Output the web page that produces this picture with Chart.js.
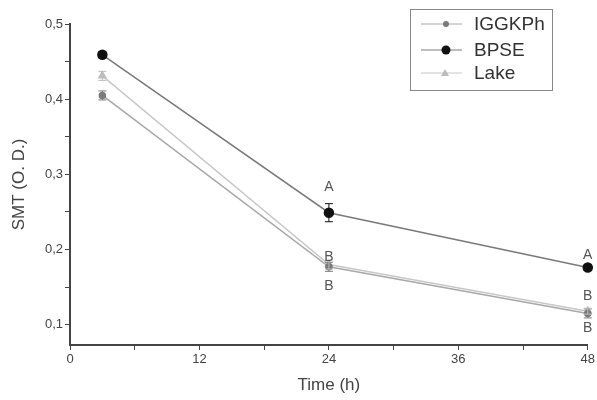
<!DOCTYPE html>
<html>
<head>
<meta charset="utf-8">
<script src="https://cdn.jsdelivr.net/npm/chart.js@4"></script>
<style>
  html, body { margin: 0; padding: 0; background: #fff; }
  #wrap { width: 597px; height: 400px; position: relative; }
</style>
</head>
<body>
<div id="wrap"><canvas id="chart"></canvas></div>
<script>
const hours = [3, 24, 48];
const iggkph = [0.405, 0.177, 0.115];
const bpse = [0.459, 0.249, 0.176];
const lake = [0.431, 0.180, 0.118];
const iggkphErr = [0.006, 0.006, 0.006];
const bpseErr = [0.004, 0.012, 0.004];
const lakeErr = [0.006, 0.006, 0.004];

// significance letters: [hour, value, text]
const letters = [
  [24, 0.283, "A"],
  [24, 0.190, "B"],
  [24, 0.151, "B"],
  [48, 0.192, "A"],
  [48, 0.138, "B"],
  [48, 0.096, "B"],
];

const FONT = "'Liberation Sans', Arial, sans-serif";
const AXIS = "#444";

function pts(vals) {
  return hours.map((h, i) => ({ x: h, y: vals[i] }));
}

const series = [
  { label: "IGGKPh", data: iggkph, err: iggkphErr, line: "#a8a8a8", mark: "#7a7a7a", style: "circle", r: 3 },
  { label: "BPSE", data: bpse, err: bpseErr, line: "#7a7a7a", mark: "#111", style: "circle", r: 4.5 },
  { label: "Lake", data: lake, err: lakeErr, line: "#c8c8c8", mark: "#bcbcbc", style: "triangle", r: 4 },
];

const extras = {
  id: "extras",
  afterDatasetsDraw(chart) {
    const c = chart.ctx;
    const xs = chart.scales.x;
    const ys = chart.scales.y;
    c.save();
    // error bars
    series.forEach((s) => {
      c.strokeStyle = s.mark;
      c.lineWidth = 1;
      s.data.forEach((v, i) => {
        const px = xs.getPixelForValue(hours[i]);
        const top = ys.getPixelForValue(v + s.err[i]);
        const bot = ys.getPixelForValue(v - s.err[i]);
        c.beginPath();
        c.moveTo(px, top); c.lineTo(px, bot);
        c.moveTo(px - 4, top); c.lineTo(px + 4, top);
        c.moveTo(px - 4, bot); c.lineTo(px + 4, bot);
        c.stroke();
      });
    });
    // letters
    c.fillStyle = "#555";
    c.font = "14px " + FONT;
    c.textAlign = "center";
    c.textBaseline = "middle";
    letters.forEach(([h, v, t]) => {
      c.fillText(t, xs.getPixelForValue(h), ys.getPixelForValue(v));
    });
    // legend box
    const lx = 410, ly = 9, lw = 142, lh = 81;
    c.strokeStyle = "#888";
    c.lineWidth = 1;
    c.strokeRect(lx + 0.5, ly + 0.5, lw, lh);
    c.font = "19px " + FONT;
    c.textAlign = "left";
    const rows = [24, 50, 73];
    series.forEach((s, i) => {
      const y = rows[i];
      c.strokeStyle = s.line;
      c.beginPath();
      c.moveTo(421, y); c.lineTo(462, y);
      c.stroke();
      c.fillStyle = s.mark;
      c.beginPath();
      if (s.style === "triangle") {
        c.moveTo(445, y - 4); c.lineTo(449, y + 3); c.lineTo(441, y + 3); c.closePath();
      } else {
        c.arc(446, y, s.r, 0, Math.PI * 2);
      }
      c.fill();
      c.fillStyle = "#333";
      c.fillText(s.label, 474, y + 1);
    });
    c.restore();
  },
};

const chart = new Chart(document.getElementById("chart"), {
  type: "line",
  data: {
    datasets: series.map((s) => ({
      label: s.label,
      data: pts(s.data),
      borderColor: s.line,
      borderWidth: 1.5,
      pointStyle: s.style,
      pointRadius: s.r,
      pointBackgroundColor: s.mark,
      pointBorderColor: s.mark,
      tension: 0,
      clip: false,
    })),
  },
  options: {
    responsive: true,
    maintainAspectRatio: false,
    animation: false,
    layout: { padding: { top: 24, right: 8, left: 5, bottom: 0 } },
    plugins: { legend: { display: false }, tooltip: { enabled: false } },
    scales: {
      x: {
        type: "linear",
        min: 0,
        max: 48,
        afterBuildTicks: (sc) => {
          sc.ticks = [0, 6, 12, 18, 24, 30, 36, 42, 48].map((v) => ({ value: v }));
        },
        afterFit: (sc) => { sc.height = 55; },
        ticks: {
          autoSkip: false,
          maxRotation: 0,
          color: AXIS,
          font: { family: FONT, size: 13 },
          padding: 2,
          callback: (v) => (v % 12 === 0 ? String(v) : ""),
        },
        grid: { drawOnChartArea: false, tickLength: 5, color: AXIS },
        border: { color: AXIS, width: 2 },
        title: {
          display: true,
          text: "Time (h)",
          color: "#444",
          font: { family: FONT, size: 17 },
          padding: { top: 2 },
        },
      },
      y: {
        min: 0.073,
        max: 0.5,
        afterBuildTicks: (sc) => {
          sc.ticks = [0.1, 0.15, 0.2, 0.25, 0.3, 0.35, 0.4, 0.45, 0.5].map((v) => ({ value: v }));
        },
        afterFit: (sc) => { sc.width = 65; },
        ticks: {
          autoSkip: false,
          color: AXIS,
          font: { family: FONT, size: 13 },
          padding: 2,
          callback: (v) => {
            const r = Math.round(v * 100);
            return r % 10 === 0 ? (r / 100).toFixed(1).replace(".", ",") : "";
          },
        },
        grid: { drawOnChartArea: false, tickLength: 5, color: AXIS },
        border: { color: AXIS, width: 2 },
        title: {
          display: true,
          text: "SMT (O. D.)",
          color: "#444",
          font: { family: FONT, size: 17 },
          padding: { bottom: 4 },
        },
      },
    },
  },
  plugins: [extras],
});
</script>
</body>
</html>
